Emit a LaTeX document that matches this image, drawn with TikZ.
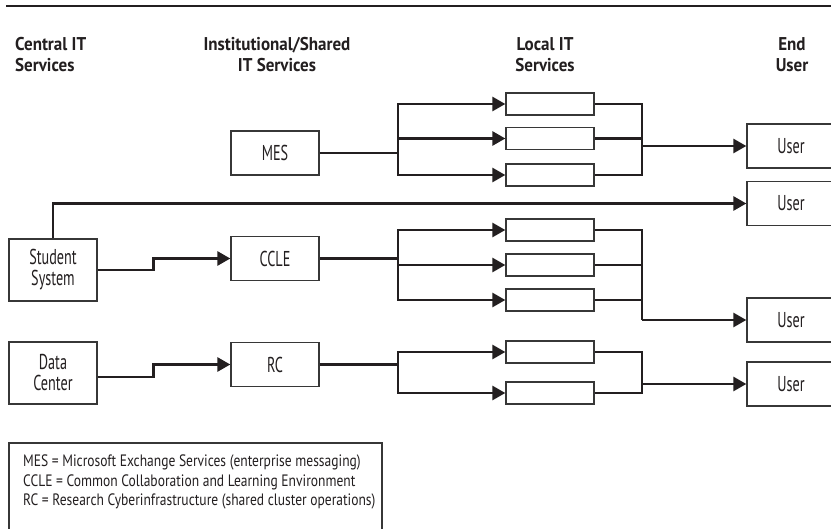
\documentclass[tikz,border=0pt]{standalone}
\usepackage{fontspec}
\setmainfont{PT Sans}
\newfontfamily\hdrfont{PT Sans}[FakeStretch=0.92]
\newfontfamily\boxfont{PT Sans}[FakeStretch=0.66]
\newfontfamily\legfont{PT Sans}[FakeStretch=0.82]
\usetikzlibrary{arrows.meta,calc}
\definecolor{ink}{RGB}{35,31,32}
\definecolor{frame}{RGB}{55,55,55}

\begin{document}
\begin{tikzpicture}[x=1pt,y=-1pt,
  hdr/.style={font=\hdrfont\bfseries\fontsize{18.5}{21}\selectfont, inner sep=0pt, text=ink},
  svc/.style={draw=frame, line width=1.3pt, minimum width=88pt, minimum height=44pt,
    inner sep=0pt, font=\boxfont\fontsize{21.5}{21}\selectfont, align=center, text=ink},
  tallsvc/.style={svc, minimum height=62pt},
  slot/.style={draw=frame, line width=1.3pt, minimum width=88pt, minimum height=22pt, inner sep=0pt},
  conn/.style={draw=ink, line width=2.7pt},
  arr/.style={conn, -{Triangle[length=13pt,width=14pt]}},
]
\useasboundingbox[fill=white] (0,0) rectangle (831,529);

% top rule
\draw[ink, line width=2.4pt] (6,6.2) -- (831,6.2);

% column headings
\node[hdr, align=left, anchor=west] (h1) at (15,54.5) {Central IT\\Services};
\node[hdr, align=center] (h2) at (277,54.5) {Institutional/Shared\\IT Services};
\node[hdr, align=center] (h3) at (545,54.5) {Local IT\\Services};
\node[hdr, align=center] (h4) at (792,54.5) {End\\User};

% central and shared services
\node[tallsvc] (stu) at (53,270) {Student\\System};
\node[tallsvc] (dc) at (53,373) {Data\\Center};
\node[svc] (mes) at (275,153) {MES};
\node[svc] (ccle) at (275,258.5) {CCLE};
\node[svc] (rc) at (275,364.5) {RC};

% local IT services
\node[slot] (a1) at (550,104) {};
\node[slot] (a2) at (550,138.5) {};
\node[slot] (a3) at (550,175) {};
\node[slot] (b1) at (550,230) {};
\node[slot] (b2) at (550,265) {};
\node[slot] (b3) at (550,300) {};
\node[slot] (c1) at (550,352) {};
\node[slot] (c2) at (550,393) {};

% end users
\node[svc] (u1) at (791,146) {User};
\node[svc] (u2) at (791,203.5) {User};
\node[svc] (u3) at (791,320) {User};
\node[svc] (u4) at (791,384) {User};

% split and join points
\coordinate (sa) at (398,153);
\coordinate (sb) at (398,258.5);
\coordinate (sc) at (398,364.5);
\coordinate (ja) at (642,146);
\coordinate (jb) at (642,320);
\coordinate (jc) at (642,384);

% MES branch
\draw[conn] (mes.east) -- (sa);
\draw[arr] (sa) |- (a1.west);
\draw[arr] (sa) |- (a2.west);
\draw[arr] (sa) |- (a3.west);
\draw[conn] (a1.east) -| (ja);
\draw[conn] (a2.east) -| (ja);
\draw[conn] (a3.east) -| (ja);
\draw[arr] (ja) -- (u1.west);

% student system direct line
\draw[arr] (stu.north) |- (u2.west);

% CCLE branch
\draw[arr] (stu.east) -- ++(56,0) |- (ccle.west);
\draw[conn] (ccle.east) -- (sb);
\draw[arr] (sb) |- (b1.west);
\draw[arr] (sb) |- (b2.west);
\draw[arr] (sb) |- (b3.west);
\draw[conn] (b1.east) -| (jb);
\draw[conn] (b2.east) -| (jb);
\draw[conn] (b3.east) -| (jb);
\draw[arr] (jb) -- (u3.west);

% RC branch
\draw[arr] ($(dc.east)+(0,4)$) -- ++(56,0) |- (rc.west);
\draw[conn] (rc.east) -- (sc);
\draw[arr] (sc) |- (c1.west);
\draw[arr] (sc) |- (c2.west);
\draw[conn] (c1.east) -| (jc);
\draw[conn] (c2.east) -| (jc);
\draw[arr] (jc) -- (u4.west);

% legend
\draw[frame, line width=1.3pt] (9,443) rectangle (382,545);
\node[anchor=north west, inner sep=0pt, align=left, text=ink,
  font=\legfont\fontsize{16.5}{17.5}\selectfont] (leg) at (23,455)
  {MES = Microsoft Exchange Services (enterprise messaging)\\[2pt]
   CCLE = Common Collaboration and Learning Environment\\[2pt]
   RC = Research Cyberinfrastructure (shared cluster operations)};
\end{tikzpicture}
\end{document}
